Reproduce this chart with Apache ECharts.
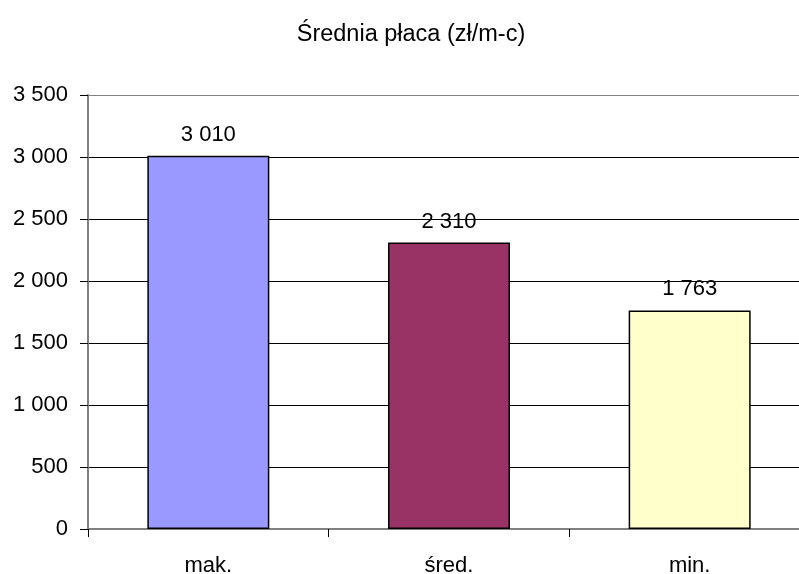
<!DOCTYPE html>
<html>
<head>
<meta charset="utf-8">
<script src="https://cdn.jsdelivr.net/npm/echarts@6/dist/echarts.min.js"></script>
<style>
  html, body { margin: 0; padding: 0; background: #fff; overflow: hidden; }
  #chart { width: 799px; height: 574px; }
</style>
</head>
<body>
<div id="chart"></div>
<script>
// Salary figures (PLN per month)
const categories = ['mak.', 'śred.', 'min.'];
const values = [3010, 2310, 1763];
const barColors = ['#9999FF', '#993366', '#FFFFCC'];
const yTicks = [0, 500, 1000, 1500, 2000, 2500, 3000, 3500];

// Polish-style thousands grouping: "3 010"
function fmt(v) {
  return String(v).replace(/\B(?=(\d{3})+(?!\d))/g, ' ');
}

const FONT = '"Liberation Sans", Arial, sans-serif';
const chart = echarts.init(document.getElementById('chart'), null, { renderer: 'canvas' });

chart.setOption({
  animation: false,
  backgroundColor: '#ffffff',
  title: {
    text: 'Średnia płaca (zł/m-c)',
    left: 406,
    top: 18,
    textAlign: 'center',
    textStyle: { fontFamily: FONT, fontSize: 23.5, fontWeight: 'normal', color: '#000' }
  },
  // plot area runs slightly past the right edge of the canvas
  grid: { left: 88, width: 722, top: 95, bottom: 45, containLabel: false, outerBoundsMode: 'none' },
  xAxis: {
    type: 'category',
    data: categories,
    axisLine: { show: true, lineStyle: { color: '#808080', width: 2 } },
    axisTick: { show: true, alignWithLabel: false, length: 8, lineStyle: { color: '#000', width: 1 } },
    axisLabel: { margin: 26, fontFamily: FONT, fontSize: 22, color: '#000' },
    splitLine: { show: false }
  },
  yAxis: {
    type: 'value',
    min: yTicks[0],
    max: yTicks[yTicks.length - 1],
    interval: 500,
    axisLine: { show: true, lineStyle: { color: '#808080', width: 2 } },
    axisTick: { show: true, length: 8, inside: false, lineStyle: { color: '#000', width: 1 } },
    axisLabel: { margin: 20, fontFamily: FONT, fontSize: 22, color: '#000', formatter: v => fmt(v) },
    splitLine: {
      show: true,
      lineStyle: {
        color: ['#808080', '#000', '#000', '#000', '#000', '#000', '#000', '#808080'],
        width: 1
      }
    }
  },
  series: [{
    type: 'bar',
    data: values.map((v, i) => ({
      value: v,
      itemStyle: { color: barColors[i], borderColor: '#000', borderWidth: 1.5 }
    })),
    barWidth: 122,
    label: {
      show: true,
      position: 'top',
      distance: 10,
      fontFamily: FONT,
      fontSize: 22,
      color: '#000',
      formatter: p => fmt(p.value)
    }
  }]
});
</script>
</body>
</html>
